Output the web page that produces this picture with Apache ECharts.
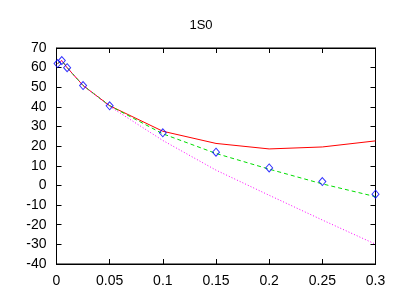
<!DOCTYPE html>
<html><head><meta charset="utf-8">
<script src="https://cdn.jsdelivr.net/npm/echarts@6/dist/echarts.min.js"></script>
<style>html,body{margin:0;padding:0;background:#fff}#c{width:402px;height:296px}</style>
</head><body><div id="c"></div>
<script>
const titleText = '1S0';
const xTicks = [0, 0.05, 0.1, 0.15, 0.2, 0.25, 0.3];
const yTicks = [-40, -30, -20, -10, 0, 10, 20, 30, 40, 50, 60, 70];
const energies = [0.001, 0.005, 0.01, 0.025, 0.05, 0.1, 0.15, 0.2, 0.25, 0.3];
const pwaPoints = [62.07, 63.63, 59.96, 50.90, 40.54, 26.78, 16.94, 8.94, 1.96, -4.46];
const redCurve = [62.1, 63.6, 60.0, 50.9, 40.6, 27.6, 21.4, 18.6, 19.6, 22.7];
const greenCurve = [62.1, 63.6, 60.0, 50.9, 40.6, 26.3, 16.3, 8.3, 0.8, -5.7];
const magentaCurve = [62.1, 63.6, 60.0, 50.9, 40.3, 22.9, 7.8, -5.0, -17.6, -29.9];

const pair = (vals) => energies.map((x, i) => [x, vals[i]]);
const font = 'Liberation Sans, Arial, sans-serif';
const axisCommon = {
  type: 'value',
  axisLine: {show: true, onZero: false, lineStyle: {color: '#000', width: 1}},
  axisTick: {show: true, inside: true, length: 5, lineStyle: {color: '#000', width: 1}},
  splitLine: {show: false}
};
const chart = echarts.init(document.getElementById('c'), null, {renderer: 'canvas'});
chart.setOption({
  animation: false,
  backgroundColor: '#fff',
  title: {text: titleText, left: 'center', top: 14, textStyle: {fontFamily: font, fontSize: 13, fontWeight: 'normal', color: '#000'}},
  grid: {left: 56.5, right: 26.5, top: 48, bottom: 32, show: true, borderColor: '#000', borderWidth: 1},
  xAxis: [
    Object.assign({}, axisCommon, {min: xTicks[0], max: xTicks[xTicks.length-1], interval: 0.05, position: 'bottom',
      axisLabel: {fontFamily: font, fontSize: 14, color: '#000', margin: 10}}),
    Object.assign({}, axisCommon, {min: xTicks[0], max: xTicks[xTicks.length-1], interval: 0.05, position: 'top',
      axisLabel: {show: false}})
  ],
  yAxis: [
    Object.assign({}, axisCommon, {min: yTicks[0], max: yTicks[yTicks.length-1], interval: 10, position: 'left',
      axisLabel: {fontFamily: font, fontSize: 14, color: '#000', margin: 10}}),
    Object.assign({}, axisCommon, {min: yTicks[0], max: yTicks[yTicks.length-1], interval: 10, position: 'right',
      axisLabel: {show: false}})
  ],
  series: [
    {type: 'line', data: pair(redCurve), showSymbol: false, symbol: 'none', lineStyle: {color: '#ff0000', width: 1}, z: 3},
    {type: 'line', data: pair(greenCurve), showSymbol: false, symbol: 'none', lineStyle: {color: '#00dd00', width: 1, type: [4, 3]}, z: 3},
    {type: 'line', data: pair(magentaCurve), showSymbol: false, symbol: 'none', lineStyle: {color: '#ff00ff', width: 1, type: [1, 2]}, z: 3},
    {type: 'scatter', data: pair(pwaPoints), symbol: 'diamond', symbolSize: [7, 8],
      itemStyle: {color: 'rgba(0,0,0,0)', borderColor: '#0000ff', borderWidth: 1}, z: 4}
  ]
});
</script></body></html>
